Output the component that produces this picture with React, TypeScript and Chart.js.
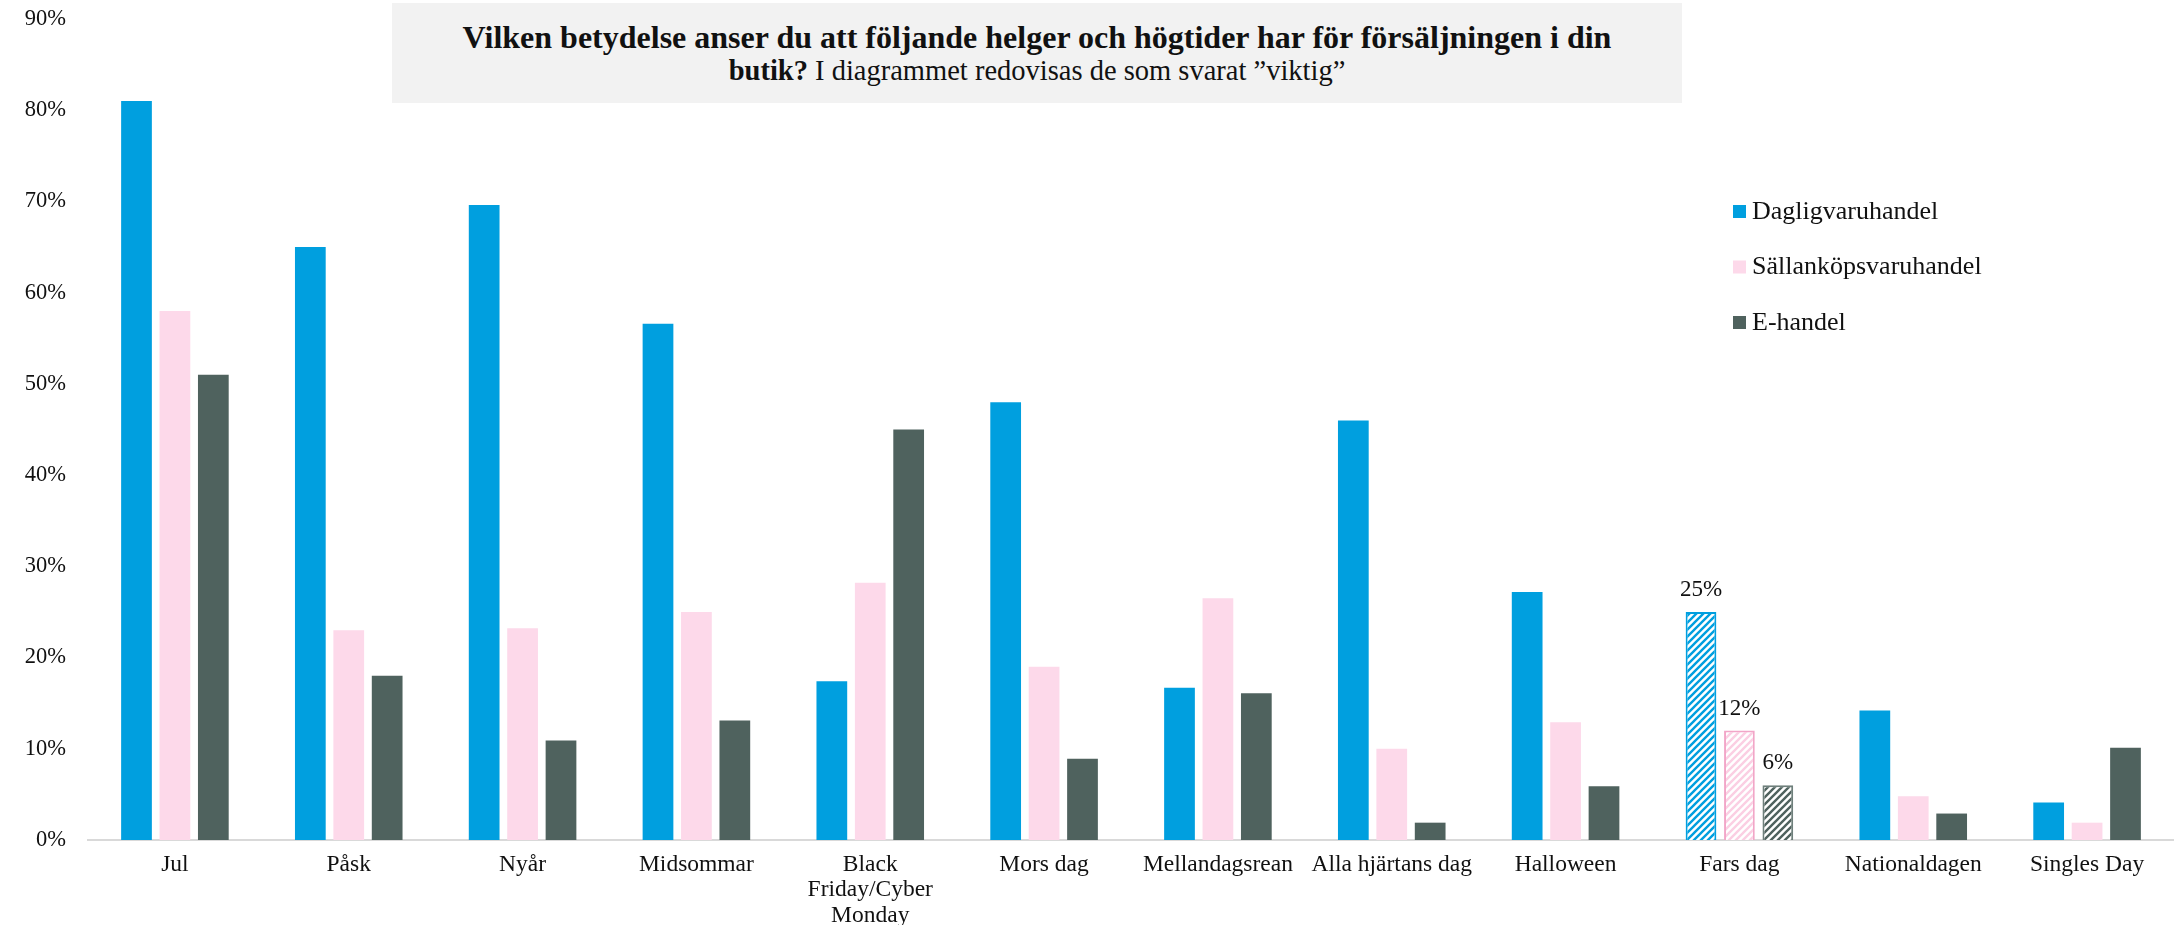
import React, { useEffect, useRef } from "react";
import { Chart, registerables } from "chart.js";

Chart.register(...registerables);

const CATEGORIES: (string | string[])[] = [
  "Jul",
  "Påsk",
  "Nyår",
  "Midsommar",
  ["Black", "Friday/Cyber", "Monday"],
  "Mors dag",
  "Mellandagsrean",
  "Alla hjärtans dag",
  "Halloween",
  "Fars dag",
  "Nationaldagen",
  "Singles Day",
];

const SERIES_NAMES = ["Dagligvaruhandel", "Sällanköpsvaruhandel", "E-handel"];
const DAGLIGVARU = [81, 65, 69.6, 56.6, 17.4, 48, 16.7, 46, 27.2, 25, 14.2, 4.1];
const SALLANKOP = [58, 23, 23.2, 25, 28.2, 19, 26.5, 10, 12.9, 12, 4.8, 1.9];
const EHANDEL = [51, 18, 10.9, 13.1, 45, 8.9, 16.1, 1.9, 5.9, 6, 2.9, 10.1];
const HIGHLIGHT_INDEX = 9;
const HIGHLIGHT_LABELS = ["25%", "12%", "6%"];
const Y_TICKS = [0, 10, 20, 30, 40, 50, 60, 70, 80, 90];

const COLORS = ["#009FDF", "#FDD9EA", "#4F625E"];
const HATCH_STRIPE = ["#009FDF", "#FBCFE3", "#4F625E"];
const HATCH_BORDER = ["#009FDF", "#F2A6C8", "#6E7F7B"];

const FONT = "'Liberation Serif', 'Times New Roman', serif";

function makeHatch(color: string): CanvasPattern | string {
  const size = 7;
  const c = document.createElement("canvas");
  c.width = size;
  c.height = size;
  const ctx = c.getContext("2d");
  if (!ctx) return color;
  ctx.fillStyle = "#ffffff";
  ctx.fillRect(0, 0, size, size);
  ctx.strokeStyle = color;
  ctx.lineWidth = 2.4;
  ctx.beginPath();
  ctx.moveTo(-1, size + 1);
  ctx.lineTo(size + 1, -1);
  ctx.moveTo(-size / 2 - 1, size / 2 + 1);
  ctx.lineTo(size / 2 + 1, -size / 2 - 1);
  ctx.moveTo(size / 2 - 1, size * 1.5 + 1);
  ctx.lineTo(size * 1.5 + 1, size / 2 - 1);
  ctx.stroke();
  const p = ctx.createPattern(c, "repeat");
  return p || color;
}

const legendPlugin = {
  id: "customLegend",
  afterDraw(chart: any) {
    const ctx = chart.ctx;
    ctx.save();
    const x0 = 1733;
    const y0 = 212;
    const step = 55.5;
    chart.data.datasets.forEach((ds: any, i: number) => {
      const y = y0 + i * step;
      ctx.fillStyle = COLORS[i];
      ctx.fillRect(x0, y - 7, 13, 13);
      ctx.fillStyle = "#111";
      ctx.font = `26px ${FONT}`;
      ctx.textBaseline = "middle";
      ctx.textAlign = "left";
      ctx.fillText(ds.label, x0 + 19, y);
    });
    ctx.restore();
  },
};

const valueLabelPlugin = {
  id: "valueLabels",
  afterDatasetsDraw(chart: any) {
    const ctx = chart.ctx;
    ctx.save();
    ctx.font = `23px ${FONT}`;
    ctx.fillStyle = "#111";
    ctx.textAlign = "center";
    ctx.textBaseline = "middle";
    chart.data.datasets.forEach((_ds: any, i: number) => {
      const el = chart.getDatasetMeta(i).data[HIGHLIGHT_INDEX];
      if (!el) return;
      ctx.fillText(HIGHLIGHT_LABELS[i], el.x, el.y - 22);
    });
    ctx.restore();
  },
};

export default function App() {
  const canvasRef = useRef<HTMLCanvasElement | null>(null);

  useEffect(() => {
    document.body.style.margin = "0";
    const canvas = canvasRef.current;
    if (!canvas) return;
    const seriesValues = [DAGLIGVARU, SALLANKOP, EHANDEL];
    const datasets = seriesValues.map((vals, si) => {
      const pattern = makeHatch(HATCH_STRIPE[si]);
      return {
        label: SERIES_NAMES[si],
        data: vals,
        backgroundColor: vals.map((_, i) => (i === HIGHLIGHT_INDEX ? pattern : COLORS[si])),
        borderColor: vals.map((_, i) => (i === HIGHLIGHT_INDEX ? HATCH_BORDER[si] : COLORS[si])),
        borderWidth: vals.map((_, i) => (i === HIGHLIGHT_INDEX ? 2 : 0)),
        categoryPercentage: 0.663,
        barPercentage: 0.8,
      };
    });

    const chart = new Chart(canvas, {
      type: "bar",
      data: { labels: CATEGORIES as any, datasets: datasets as any },
      options: {
        responsive: false,
        animation: false,
        devicePixelRatio: 1,
        layout: { padding: { top: 19, right: 0, bottom: 0, left: 0 } },
        plugins: {
          legend: { display: false },
          title: { display: false },
          tooltip: { enabled: false },
        },
        scales: {
          x: {
            grid: { display: false },
            border: { display: true, color: "#D9D9D9", width: 2 },
            ticks: {
              color: "#111",
              font: { family: FONT, size: 23.5, lineHeight: 1.085 },
              padding: 4,
              maxRotation: 0,
              autoSkip: false,
            },
            afterFit: (s: any) => {
              s.height = 85;
              s.paddingLeft = 0;
              s.paddingRight = 0;
            },
          },
          y: {
            min: 0,
            max: 90,
            afterBuildTicks: (s: any) => {
              s.ticks = Y_TICKS.map((v) => ({ value: v }));
            },
            grid: { display: false, drawTicks: false },
            border: { display: false },
            ticks: {
              color: "#111",
              font: { family: FONT, size: 22.5 },
              padding: 22,
              callback: (v: any) => `${v}%`,
            },
            afterFit: (s: any) => {
              s.width = 88;
              s.paddingTop = 0;
              s.paddingBottom = 0;
            },
          },
        },
      },
      plugins: [legendPlugin, valueLabelPlugin],
    });
    return () => chart.destroy();
  }, []);

  return (
    <div style={{ position: "relative", width: 2174, height: 925, background: "#fff", overflow: "hidden" }}>
      <canvas ref={canvasRef} width={2174} height={925} style={{ display: "block", width: 2174, height: 925 }} />
      <div
        style={{
          position: "absolute",
          left: 392,
          top: 3,
          width: 1290,
          height: 100,
          background: "#F2F2F2",
          fontFamily: FONT,
          color: "#111",
          lineHeight: "34px",
          textAlign: "center",
          boxSizing: "border-box",
          paddingTop: 17,
        }}
      >
        <div style={{ fontWeight: "bold", fontSize: 32 }}>
          Vilken betydelse anser du att följande helger och högtider har för försäljningen i din
        </div>
        <div style={{ fontSize: 28.5 }}>
          <span style={{ fontWeight: "bold" }}>butik?</span> I diagrammet redovisas de som svarat ”viktig”
        </div>
      </div>
    </div>
  );
}
